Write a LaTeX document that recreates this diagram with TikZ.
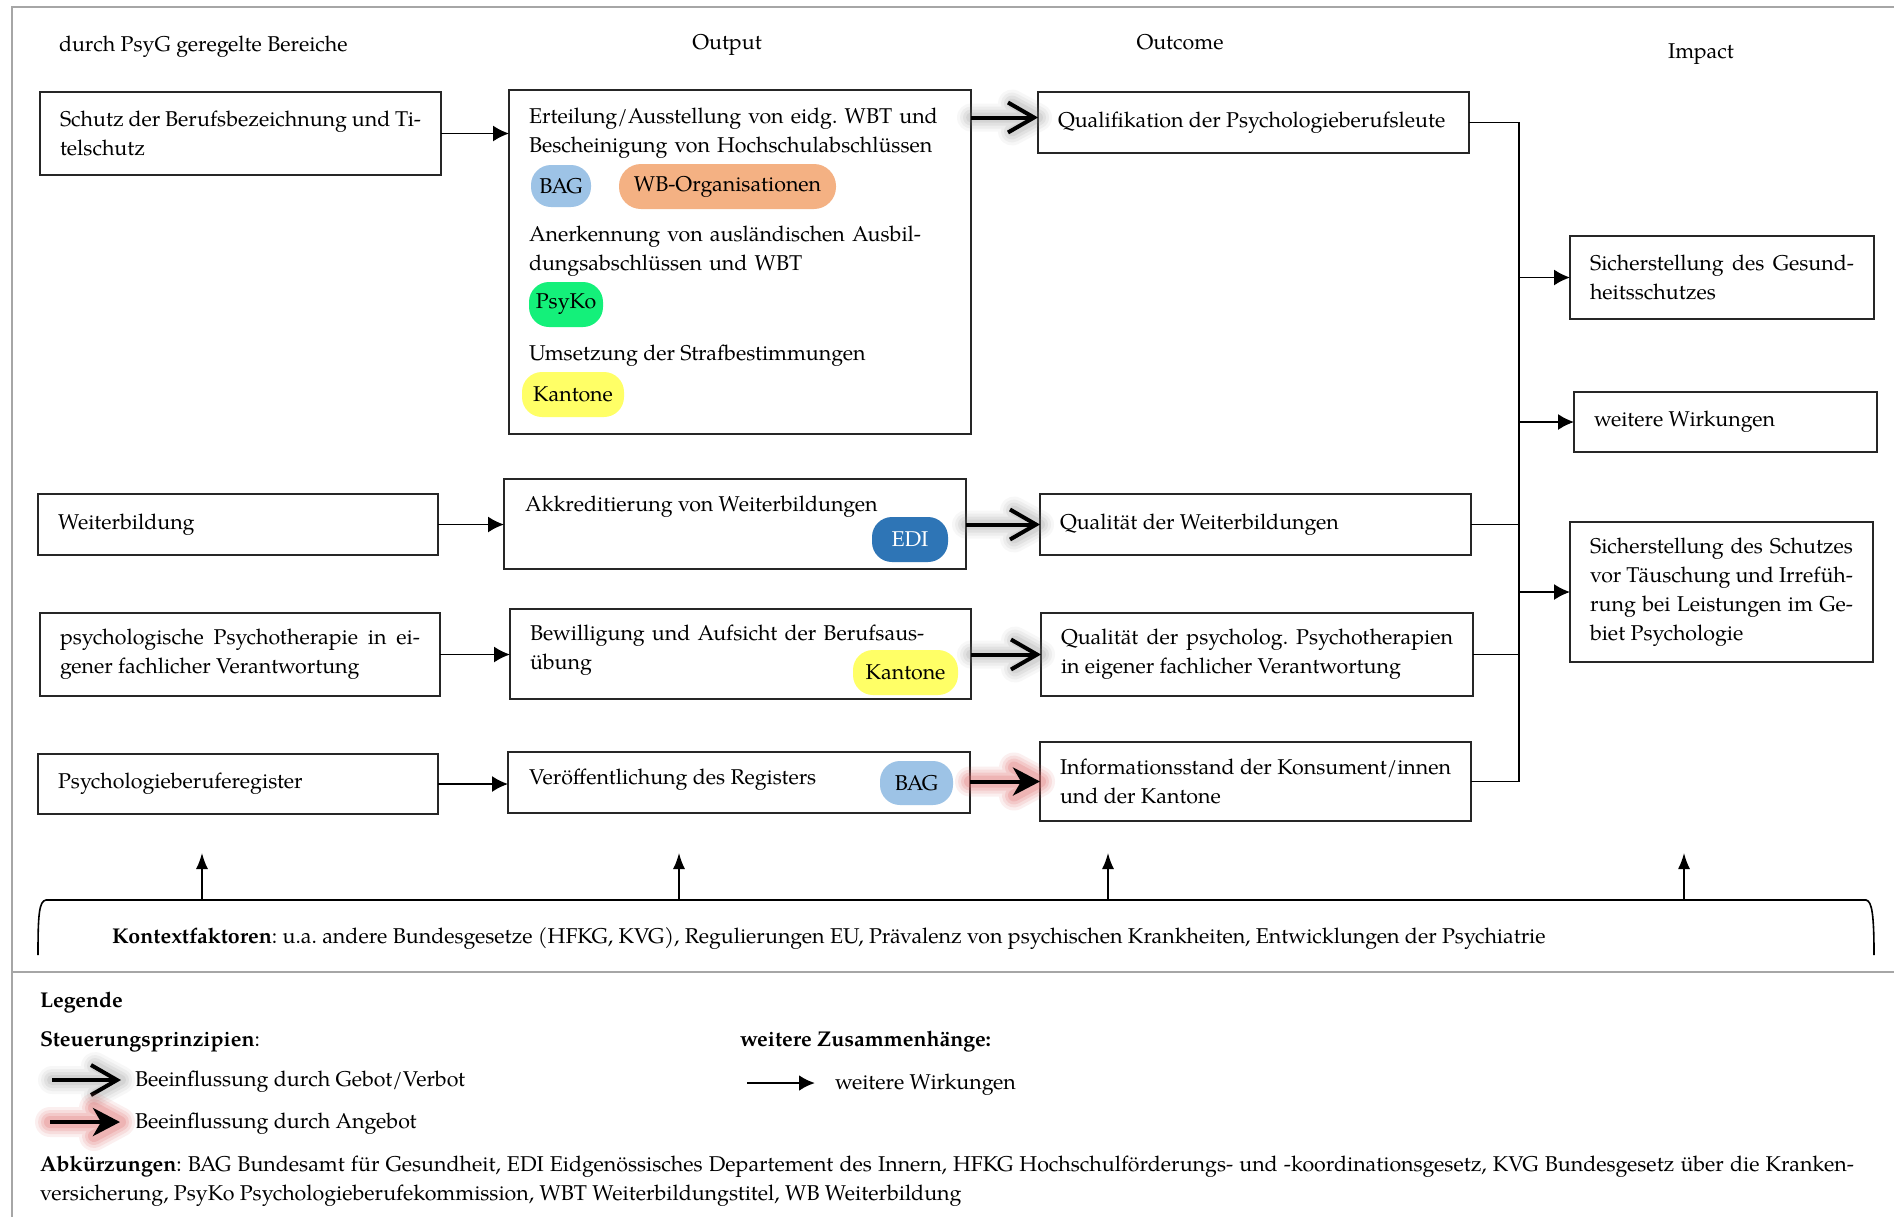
\documentclass[tikz,border=0pt]{standalone}
\usepackage{fontspec}
\setmainfont{texgyrepagella}[Extension=.otf,UprightFont=*-regular,BoldFont=*-bold,ItalicFont=*-italic,BoldItalicFont=*-bolditalic]
\usetikzlibrary{arrows.meta}
\definecolor{pillblue}{HTML}{9DC3E6}
\definecolor{pillorange}{HTML}{F4B183}
\definecolor{pillgreen}{HTML}{14F07A}
\definecolor{pillyellow}{HTML}{FFFF66}
\definecolor{pilldark}{HTML}{2E75B6}
\definecolor{framegray}{HTML}{A6A6A6}
\definecolor{glowgray}{HTML}{808080}
\definecolor{glowred}{HTML}{E06A6A}
\newcommand\mainfs{\fontsize{10.7pt}{14.5pt}\selectfont}
\frenchspacing
\hyphenpenalty=10000
\exhyphenpenalty=10000
% soft halo drawn underneath a steering arrow: #1 colour, #2 start, #3 tip, #4 width/opacity list macro
\newcommand\glowarrow[4]{%
  \foreach \gw/\go in #4{%
    \draw[#1,line width=\gw,opacity=\go,line cap=round,line join=round]
      (#2) -- (#3) ++(-13pt,7pt) -- (#3) -- ++(-13pt,-7pt);}}
\newcommand\graylist{14pt/0.06,11pt/0.08,8pt/0.1,5pt/0.13}
\newcommand\redlist{15pt/0.1,12pt/0.13,9pt/0.17,6pt/0.22}
\begin{document}
\begin{tikzpicture}[x=0.5pt,y=-0.5pt,
  every node/.style={font=\mainfs,inner sep=0pt,outer sep=0pt},
  box/.style={draw=black!85,line width=0.9pt,align=justify,inner xsep=10pt,inner ysep=0pt},
  pill/.style={rounded corners=10pt,minimum height=22.5pt,inner sep=0pt},
  txt/.style={anchor=base west,align=left},
  thinarrow/.style={-{Latex[length=8pt,width=8pt]},line width=0.8pt},
  uparrow/.style={-{Latex[length=8pt,width=6pt]},line width=0.7pt},
  link/.style={line width=0.8pt},
  gebot/.style={-{Straight Barb[length=13pt,width=15pt]},line width=2pt},
  angebot/.style={-{Stealth[length=13.5pt,width=14pt,inset=4pt]},line width=2pt},
]
\fill[white] (0,0) rectangle (1894,1217);
\useasboundingbox (0,0) rectangle (1894,1217);

% frame and separator of the legend
\draw[framegray,line width=1pt] (1894,7) -- (12,7) -- (12,1217);
\draw[framegray,line width=1pt] (12,972) -- (1894,972);

% column headings
\node[txt] (h1) at (59,51) {durch PsyG geregelte Bereiche};
\node[anchor=base] (h2) at (727,49) {Output};
\node[anchor=base] (h3) at (1180,49) {Outcome};
\node[anchor=base] (h4) at (1701,58) {Impact};

% regulated areas
\node[box,text width=180.5pt,minimum height=41.5pt] (s1) at (240.5,133.5)
  {Schutz der Berufsbezeichnung und Ti-\linebreak telschutz};
\node[box,text width=180pt,minimum height=30.5pt] (s2) at (238,524.5) {Weiterbildung};
\node[box,text width=180pt,minimum height=41.5pt] (s3) at (240,654.5)
  {psychologische Psychotherapie in ei-\linebreak gener fachlicher Verantwortung};
\node[box,text width=180pt,minimum height=30pt] (s4) at (238,784) {Psychologieberuferegister};

% outputs
\node[box,minimum width=231pt,minimum height=172pt] (o1) at (740,262) {};
\node[txt,text width=215pt] (o1a) at (529,123)
  {Erteilung/Ausstellung von eidg. WBT und\\Bescheinigung von Hochschulabschl\"ussen};
\node[pill,fill=pillblue,minimum width=30pt,minimum height=21pt] (bag1) at (561,186) {BAG};
\node[pill,fill=pillorange,minimum width=108.5pt,rounded corners=11pt] (wbo) at (727.5,186.5) {WB-Organisationen};
\node[txt,text width=215pt] (o1b) at (529,241)
  {Anerkennung von ausl\"andischen Ausbil-\\dungsabschl\"ussen und WBT};
\node[pill,fill=pillgreen,minimum width=37pt] (psyko) at (566,304.5) {PsyKo};
\node[txt] (o1c) at (529,360) {Umsetzung der Strafbestimmungen};
\node[pill,fill=pillyellow,minimum width=51pt] (kt1) at (573,394.5) {Kantone};

\node[box,minimum width=231pt,minimum height=45pt] (o2) at (735,524) {};
\node[txt] (o2a) at (525,511) {Akkreditierung von Weiterbildungen};
\node[pill,fill=pilldark,text=white,minimum width=38pt] (edi) at (910,539.5) {EDI};

\node[box,minimum width=230.5pt,minimum height=45pt] (o3) at (740.5,654) {};
\node[txt,text width=215pt] (o3a) at (530,640) {Bewilligung und Aufsicht der Berufsaus-\\\"ubung};
\node[pill,fill=pillyellow,minimum width=52.5pt] (kt2) at (905.5,672.5) {Kantone};

\node[box,minimum width=231pt,minimum height=30.5pt] (o4) at (739,782.5) {};
\node[txt] (o4a) at (529,784) {Ver\"offentlichung des Registers};
\node[pill,fill=pillblue,minimum width=36.5pt,minimum height=22pt] (bag2) at (916.5,783) {BAG};

% outcomes
\node[box,text width=195.5pt,minimum height=30.5pt] (oc1) at (1253.5,122.5) {Qualifikation der Psychologieberufsleute};
\node[box,text width=195.5pt,minimum height=30.5pt] (oc2) at (1255.5,524.5) {Qualit\"at der Weiterbildungen};
\node[box,text width=196pt,minimum height=41.5pt] (oc3) at (1257,654.5)
  {Qualit\"at der psycholog. Psychotherapien\linebreak in eigener fachlicher Verantwortung};
\node[box,text width=195.5pt,minimum height=39.5pt] (oc4) at (1255.5,781.5)
  {Informationsstand der Konsument/innen\linebreak und der Kantone};

% impacts
\node[box,text width=132pt,minimum height=41.5pt] (i1) at (1722,277.5)
  {Sicherstellung des Gesund-\linebreak heitsschutzes};
\node[box,text width=131.5pt,minimum height=30pt] (i2) at (1725.5,422) {weitere Wirkungen};
\node[box,text width=131.5pt,minimum height=70pt] (i3) at (1721.5,592)
  {Sicherstellung des Schutzes\linebreak vor T\"auschung und Irref\"uh-\linebreak rung bei Leistungen im Ge-\linebreak biet Psychologie};

% areas -> outputs
\draw[thinarrow] (s1.east) -- (s1.east -| o1.west);
\draw[thinarrow] (s2.east) -- (s2.east -| o2.west);
\draw[thinarrow] (s3.east) -- (s3.east -| o3.west);
\draw[thinarrow] (s4.east) -- (s4.east -| o4.west);

% outputs -> outcomes (steering arrows)
\coordinate (g1e) at ([yshift=2.5pt]oc1.west);
\coordinate (g1s) at (g1e -| o1.east);
\coordinate (g2e) at (oc2.west);
\coordinate (g2s) at (oc2.west -| o2.east);
\coordinate (g3e) at (oc3.west);
\coordinate (g3s) at (oc3.west -| o3.east);
\coordinate (g4e) at (oc4.west);
\coordinate (g4s) at (oc4.west -| o4.east);
\glowarrow{glowgray}{g1s}{g1e}{\graylist}
\glowarrow{glowgray}{g2s}{g2e}{\graylist}
\glowarrow{glowgray}{g3s}{g3e}{\graylist}
\glowarrow{glowred}{g4s}{g4e}{\redlist}
\draw[gebot] (g1s) -- (g1e);
\draw[gebot] (g2s) -- (g2e);
\draw[gebot] (g3s) -- (g3e);
\draw[angebot] (g4s) -- (g4e);

% outcomes -> impacts
\coordinate (busx) at (1519,0);
\draw[link] (oc1.east) -- (oc1.east -| busx) -- (oc4.east -| busx) -- (oc4.east);
\draw[link] (oc2.east) -- (oc2.east -| busx);
\draw[link] (oc3.east) -- (oc3.east -| busx);
\draw[thinarrow] (i1.west -| busx) -- (i1.west);
\draw[thinarrow] (i2.west -| busx) -- (i2.west);
\draw[thinarrow] (i3.west -| busx) -- (i3.west);

% context factors
\draw[link] (38,955) .. controls (38,915) and (39,901) .. (46,900) -- (1866,900)
  .. controls (1872,901) and (1874,915) .. (1874,955);
\foreach \x [count=\i] in {202,679,1108,1684}{
  \coordinate (ctx\i) at (\x,900);
  \coordinate (tip\i) at (\x,853);
  \draw[uparrow] (ctx\i) -- (tip\i);
}
\node[txt] (ctx) at (112,943) {\textbf{Kontextfaktoren}: u.a. andere Bundesgesetze (HFKG, KVG), Regulierungen EU, Pr\"avalenz von psychischen Krankheiten, Entwicklungen der Psychiatrie};

% legend
\node[txt] (leg) at (40,1007) {\textbf{Legende}};
\node[txt] (steu) at (40,1046) {\textbf{Steuerungsprinzipien}:};
\node[txt] (zus) at (740,1046) {\textbf{weitere Zusammenh\"ange:}};

\coordinate (l1s) at (52,1080);
\coordinate (l1e) at (121,1080);
\glowarrow{glowgray}{l1s}{l1e}{\graylist}
\draw[gebot] (l1s) -- (l1e);
\node[txt] (l1t) at (135,1086) {Beeinflussung durch Gebot/Verbot};

\coordinate (l2s) at (50,1122);
\coordinate (l2e) at (120,1122);
\glowarrow{glowred}{l2s}{l2e}{\redlist}
\draw[angebot] (l2s) -- (l2e);
\node[txt] (l2t) at (135,1128) {Beeinflussung durch Angebot};

\coordinate (l3s) at (747,1083);
\coordinate (l3e) at (815,1083);
\draw[-{Latex[length=8pt,width=8pt]},line width=1.4pt] (l3s) -- (l3e);
\node[txt] (l3t) at (835,1089) {weitere Wirkungen};

\node[txt] (abk1) at (40,1171) {\makebox[907pt][s]{\textbf{Abk\"urzungen}: BAG Bundesamt f\"ur Gesundheit, EDI Eidgen\"ossisches Departement des Innern, HFKG Hochschulf\"orderungs- und -koordinationsgesetz, KVG Bundesgesetz \"uber die Kranken-}};
\node[txt] (abk2) at (40,1200) {versicherung, PsyKo Psychologieberufekommission, WBT Weiterbildungstitel, WB Weiterbildung};
\end{tikzpicture}
\end{document}
